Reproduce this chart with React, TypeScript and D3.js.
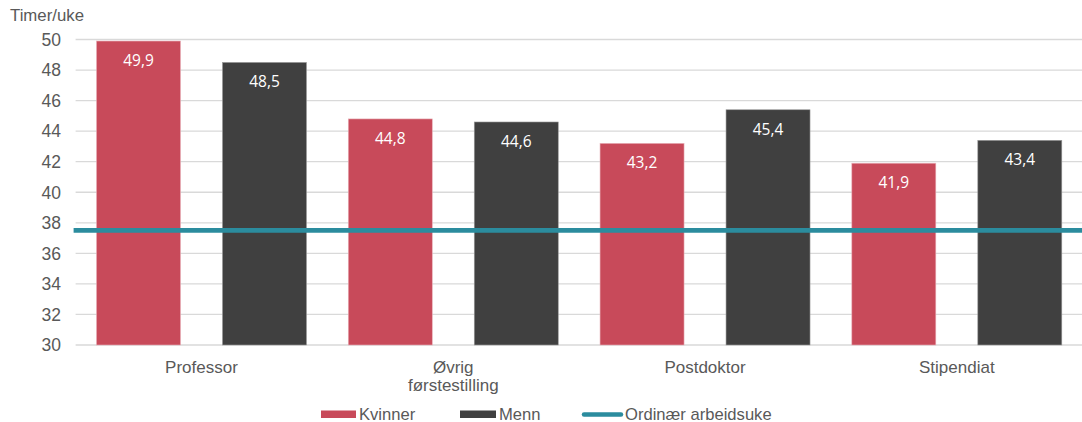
import React from "react";
import * as d3 from "d3";

const categories = [["Professor"], ["Øvrig", "førstestilling"], ["Postdoktor"], ["Stipendiat"]];
const categoryKeys = ["Professor", "Øvrig førstestilling", "Postdoktor", "Stipendiat"];
const kvinner = [49.9, 44.8, 43.2, 41.9];
const menn = [48.5, 44.6, 45.4, 43.4];
const ordinaer = 37.5;
const yTicks = [30, 32, 34, 36, 38, 40, 42, 44, 46, 48, 50];
const seriesNames = ["Kvinner", "Menn"];
const legendLine = "Ordinær arbeidsuke";

const W = 1082;
const H = 422;
const RED = "#C84A5A";
const DARK = "#404040";
const TEAL = "#2B8C9E";
const TXT = "#595959";
const FONT = "'Liberation Sans', Arial, sans-serif";

export default function App() {
  const left = 75.6;
  const right = 1082.7;
  const y = d3.scaleLinear().domain([30, 50]).range([345, 39.5]);
  const x0 = d3.scaleBand().domain(categoryKeys).range([left, right]).paddingInner(0).paddingOuter(0);
  const x1 = d3
    .scaleBand()
    .domain(seriesNames)
    .range([20.9, x0.bandwidth() - 20.9])
    .paddingInner(42 / 210 * 2 / (1 + 42 / 210))
    .paddingOuter(0);
  const fmt = (v: number) => d3.format(".1f")(v).replace(".", ",");
  const series = [kvinner, menn];
  const colors = [RED, DARK];

  return (
    <svg width={W} height={H} style={{ position: "absolute", left: 0, top: 0, background: "#fff" }} fontFamily={FONT}>
      <text x={10} y={21} fontSize={16.8} fill={TXT}>Timer/uke</text>
      {yTicks.map((t) => (
        <g key={t}>
          <line x1={left} x2={W} y1={y(t)} y2={y(t)} stroke="#D9D9D9" strokeWidth={1.3} />
          <text x={61} y={y(t)} dy="0.36em" textAnchor="end" fontSize={17.5} fill={TXT}>{t}</text>
        </g>
      ))}
      {categoryKeys.map((c, i) => (
        <g key={c} transform={`translate(${x0(c)},0)`}>
          {series.map((s, j) => {
            const bx = x1(seriesNames[j])!;
            const bw = x1.bandwidth();
            return (
              <g key={j}>
                <rect x={bx} y={y(s[i])} width={bw} height={y(30) - y(s[i])} fill={colors[j]} stroke={j === 1 ? "#9a9a9a" : "#e8b0b8"} strokeWidth={0.6} />
              </g>
            );
          })}
        </g>
      ))}
      <line x1={left - 2} x2={W} y1={y(ordinaer)} y2={y(ordinaer)} stroke={TEAL} strokeWidth={4.8} />
      {categoryKeys.map((c, i) => (
        <g key={c + "l"} transform={`translate(${x0(c)},0)`}>
          {series.map((s, j) => {
            const bx = x1(seriesNames[j])!;
            const bw = x1.bandwidth();
            return (
              <text key={j} x={bx + bw / 2} y={y(s[i]) + 25} textAnchor="middle" fontSize={15.5} fill="#fff" fontFamily="'Open Sans', sans-serif">
                {fmt(s[i])}
              </text>
            );
          })}
          {categories[i].map((line, k) => (
            <text key={k} x={x0.bandwidth() / 2} y={373 + k * 17.5} textAnchor="middle" fontSize={17} fill={TXT}>
              {line}
            </text>
          ))}
        </g>
      ))}
      <g>
        <rect x={321} y={410.5} width={35} height={7.5} fill={RED} />
        <text x={359} y={419.5} fontSize={16.6} fill={TXT}>{seriesNames[0]}</text>
        <rect x={460} y={410.5} width={36} height={7.5} fill={DARK} />
        <text x={499} y={419.5} fontSize={16.6} fill={TXT}>{seriesNames[1]}</text>
        <line x1={584} x2={621} y1={414.5} y2={414.5} stroke={TEAL} strokeWidth={4.5} strokeLinecap="round" />
        <text x={625} y={419.5} fontSize={16.6} fill={TXT}>{legendLine}</text>
      </g>
    </svg>
  );
}
